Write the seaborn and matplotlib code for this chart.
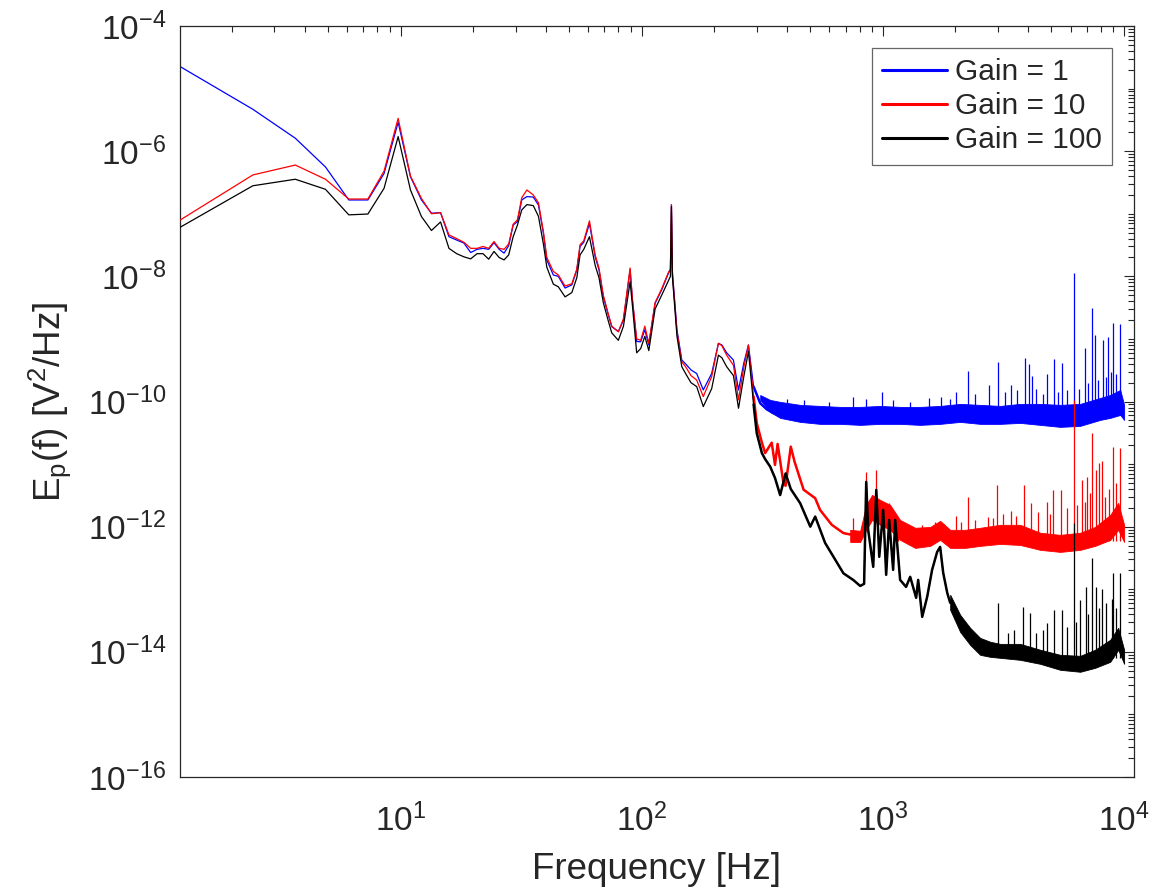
import matplotlib.pyplot as plt
import numpy as np
import pandas as pd
import seaborn as sns
from matplotlib.lines import Line2D
from matplotlib.ticker import FixedLocator, LogLocator, NullFormatter, LogFormatterSciNotation

# smooth part of the spectra (shared frequency grid), Hz
freq_lo = [1.22, 2.44, 3.66, 4.88, 6.10, 7.32, 8.54, 9.77, 10.99, 12.21,
           13.43, 14.65, 15.87, 17.09, 18.31, 19.53, 20.75, 21.97, 23.19, 24.41,
           25.63, 26.86, 28.08, 29.30, 30.52, 31.8, 33.4, 35.5, 37.3, 39.1,
           40.4, 43.0, 45.1, 48.1, 51.3, 53.8, 55.5, 57.5, 60.7, 64.1,
           66.5, 69.3, 72.5, 75.1, 80.0, 84.0, 89.5, 91.5, 95.3, 99.0,
           103, 107, 113.6, 121, 129, 131.5, 132.8, 134, 140, 146.6,
           152, 160, 169, 180, 195, 208, 215, 225, 240, 252,
           265, 277, 291]

blue_lo = [2.24e-5, 4.67e-6, 1.61e-6, 5.6e-7, 1.66e-7, 1.66e-7, 4.4e-7, 2.9e-6, 3.9e-7, 1.66e-7,
           1.02e-7, 1.04e-7, 4.3e-8, 3.8e-8, 3.4e-8, 2.4e-8, 2.7e-8, 2.8e-8, 2.7e-8, 3.45e-8,
           2.7e-8, 2.35e-8, 3.1e-8, 6.6e-8, 7.5e-8, 1.66e-7, 1.88e-7, 1.85e-7, 1.38e-7, 4.9e-8,
           1.83e-8, 1.05e-8, 1.0e-8, 6.5e-9, 7.3e-9, 1.27e-8, 3.0e-8, 3.5e-8, 7.0e-8, 2.06e-8,
           1.27e-8, 4.7e-9, 2.5e-9, 1.57e-9, 1.31e-9, 2.0e-9, 1.27e-8, 4.2e-9, 9.1e-10, 9.0e-10,
           1.4e-9, 8.0e-10, 3.7e-9, 6.1e-9, 1.12e-8, 1.3e-8, 1.38e-7, 1.2e-8, 1.39e-9, 4.6e-10,
           4.0e-10, 3.2e-10, 2.8e-10, 1.53e-10, 2.8e-10, 8.5e-10, 8.0e-10, 6.0e-10, 4.6e-10, 1.53e-10,
           4.1e-10, 8.0e-10, 1.73e-10]

red_lo = [7.96e-8, 4.17e-7, 6.0e-7, 3.56e-7, 1.72e-7, 1.72e-7, 4.8e-7, 3.35e-6, 4.0e-7, 1.75e-7,
          1.0e-7, 1.04e-7, 4.6e-8, 4.0e-8, 3.5e-8, 2.8e-8, 2.8e-8, 3.0e-8, 2.8e-8, 3.6e-8,
          2.8e-8, 2.7e-8, 3.3e-8, 6.8e-8, 8.0e-8, 1.8e-7, 2.4e-7, 2.0e-7, 1.5e-7, 5.2e-8,
          2.0e-8, 1.2e-8, 1.05e-8, 7.0e-9, 7.6e-9, 1.3e-8, 3.2e-8, 3.7e-8, 7.7e-8, 2.2e-8,
          1.35e-8, 5.0e-9, 2.6e-9, 1.6e-9, 1.3e-9, 2.1e-9, 1.36e-8, 4.3e-9, 1.0e-9, 9.5e-10,
          1.6e-9, 8.5e-10, 3.8e-9, 6.3e-9, 1.15e-8, 1.3e-8, 1.4e-7, 1.1e-8, 1.3e-9, 4.3e-10,
          3.6e-10, 2.6e-10, 2.2e-10, 1.2e-10, 2.5e-10, 8.5e-10, 7.8e-10, 5.5e-10, 3.8e-10, 1.06e-10,
          3.5e-10, 8.0e-10, 1.2e-10]

black_lo = [6.1e-8, 2.8e-7, 3.56e-7, 2.46e-7, 9.6e-8, 9.9e-8, 2.55e-7, 1.71e-6, 2.4e-7, 9.0e-8,
            5.4e-8, 7.4e-8, 2.8e-8, 2.3e-8, 2.05e-8, 1.9e-8, 2.3e-8, 2.3e-8, 1.88e-8, 2.5e-8,
            2.0e-8, 1.83e-8, 2.2e-8, 4.3e-8, 6.6e-8, 1.15e-7, 1.4e-7, 1.35e-7, 9.1e-8, 3.3e-8,
            1.4e-8, 7.5e-9, 6.8e-9, 4.7e-9, 5.5e-9, 9.5e-9, 2.2e-8, 2.7e-8, 4.3e-8, 1.5e-8,
            9.5e-9, 3.8e-9, 2.0e-9, 1.25e-9, 9.5e-10, 1.6e-9, 8.2e-9, 3.4e-9, 6.0e-10, 7.0e-10,
            1.1e-9, 6.5e-10, 3.0e-9, 5.0e-9, 8.5e-9, 1.0e-8, 1.3e-7, 1.0e-8, 1.1e-9, 3.6e-10,
            2.8e-10, 2.0e-10, 1.73e-10, 8.3e-11, 1.6e-10, 5.5e-10, 5.0e-10, 3.6e-10, 2.6e-10, 7.8e-11,
            2.5e-10, 6.3e-10, 9.0e-11]

# roll-off towards the noise floor
blue_tail_f = [310, 330, 352]
blue_tail = [9.4e-11, 7.5e-11, 6.5e-11]

red_tail_f = [300, 315, 325, 346, 357, 366, 387, 395, 415, 430,
              469, 524, 549, 614, 686, 805]
red_tail = [4.5e-11, 2.2e-11, 1.5e-11, 2.2e-11, 9.7e-12, 2.1e-11, 5.0e-12, 4.5e-12, 1.9e-11, 1.1e-11,
            3.9e-12, 2.85e-12, 1.85e-12, 1.07e-12, 7.9e-13, 6.95e-13]

black_tail_f = [300, 315, 325, 341, 357, 375, 395, 415, 454, 500,
                524, 576, 624, 686, 755, 805, 836, 853, 869, 912,
                939, 966, 1003, 1032, 1062, 1103, 1125, 1179, 1248, 1298,
                1374, 1401, 1456, 1527, 1600, 1679, 1728, 1779, 1849, 1902]
black_tail = [3.1e-11, 1.5e-11, 1.2e-11, 9.1e-12, 6.0e-12, 3.2e-12, 7.1e-12, 4.0e-12, 2.37e-12, 1.0e-12,
              1.45e-12, 5.5e-13, 3.3e-13, 1.8e-13, 1.4e-13, 1.13e-13, 1.22e-13, 5.2e-12, 8.9e-13, 2.28e-13,
              3.87e-12, 3.3e-13, 1.85e-12, 1.7e-13, 1.28e-12, 2.04e-13, 1.28e-12, 1.41e-13, 1.09e-13, 1.58e-13,
              7.3e-14, 1.41e-13, 3.62e-14, 7.6e-14, 2.04e-13, 3.95e-13, 4.75e-13, 1.83e-13, 8.75e-14, 6.07e-14]

# noise floor envelopes (lower / upper)
blue_band_f = [310, 341, 375, 454, 549, 665, 805, 974, 1179, 1428, 1728,
               2092, 2532, 3066, 3711, 4492, 5438, 6582, 7967, 8765, 9645, 10010]
blue_band_lo = [1.06e-10, 6.8e-11, 5.47e-11, 4.72e-11, 4.39e-11, 4.39e-11, 4.23e-11, 4.39e-11, 4.39e-11, 4.23e-11, 4.39e-11,
                4.72e-11, 4.39e-11, 4.39e-11, 4.55e-11, 4.23e-11, 3.93e-11, 4.08e-11, 5.08e-11, 5.47e-11, 6.1e-11, 5.08e-11]
blue_band_hi = [1.27e-10, 1.06e-10, 9.86e-11, 8.83e-11, 8.5e-11, 8.2e-11, 8.2e-11, 8.5e-11, 8.2e-11, 8.2e-11, 8.5e-11,
                9.16e-11, 8.83e-11, 8.5e-11, 9.16e-11, 9.16e-11, 8.83e-11, 9.16e-11, 1.14e-10, 1.27e-10, 1.53e-10, 8.83e-11]

red_band_f = [732, 805, 853, 902, 974, 1072, 1179, 1361, 1571, 1728, 1902,
              2194, 2532, 3066, 3711, 4492, 5438, 6582, 7590, 8765, 9460, 10010]
red_band_lo = [5.7e-13, 5.7e-13, 8.9e-13, 1.28e-12, 1.07e-12, 8.9e-13, 6.15e-13, 4.58e-13, 4.93e-13, 6.15e-13, 4.58e-13,
               4.58e-13, 4.93e-13, 5.3e-13, 5.1e-13, 4.26e-13, 3.95e-13, 4.26e-13, 4.93e-13, 6.15e-13, 8.9e-13, 5.7e-13]
red_band_hi = [8.9e-13, 8.6e-13, 2.23e-12, 3.22e-12, 2.68e-12, 2.23e-12, 1.28e-12, 9.6e-13, 9.9e-13, 1.24e-12, 8.9e-13,
               8.9e-13, 9.6e-13, 1.07e-12, 1.07e-12, 8.0e-13, 7.4e-13, 8.0e-13, 9.9e-13, 1.54e-12, 2.4e-12, 1.07e-12]

black_band_f = [1902, 2092, 2301, 2532, 2786, 3066, 3711, 4492, 5438, 6582, 7590, 8765, 9460, 10010]
black_band_lo = [4.69e-14, 2.08e-14, 1.29e-14, 8.96e-15, 8.32e-15, 8.02e-15, 7.45e-15, 6.43e-15, 5.16e-15, 4.8e-15,
                 5.55e-15, 6.92e-15, 1.08e-14, 6.43e-15]
black_band_hi = [8.15e-14, 3.9e-14, 2.42e-14, 1.67e-14, 1.45e-14, 1.34e-14, 1.34e-14, 1.08e-14, 8.96e-15, 8.63e-15,
                 1.08e-14, 1.56e-14, 2.42e-14, 1.08e-14]

# narrow spectral lines (frequency, foot, top)
blue_spike_f = [400, 470, 600, 749, 850, 996, 1100, 1300, 1550, 1750, 1900,
                2015, 2264, 2400, 2743, 2988, 3200, 3392, 3600, 3893, 4018, 4149, 4300,
                4600, 4790, 5125, 5300, 5520, 5800, 6210, 6500, 6905, 7100, 7360, 7590,
                7800, 8220, 8400, 8550, 8800, 9000, 9300, 9660]
blue_spike_top = [1.1e-10, 1.05e-10, 1.0e-10, 1.2e-10, 1.1e-10, 1.44e-10, 1.05e-10, 1.0e-10, 1.15e-10, 1.2e-10, 1.1e-10,
                  1.42e-10, 3.08e-10, 1.3e-10, 1.84e-10, 4.25e-10, 1.4e-10, 1.84e-10, 1.5e-10, 5.0e-10, 3.94e-10, 2.59e-10, 1.6e-10,
                  1.3e-10, 2.76e-10, 4.8e-10, 1.4e-10, 4.1e-10, 1.5e-10, 1.15e-8, 1.6e-10, 7.1e-10, 2.0e-10, 3.09e-9, 1.16e-9,
                  2.2e-10, 9.6e-10, 2.5e-10, 1.06e-9, 3.0e-10, 1.78e-9, 2.8e-10, 1.75e-9]
blue_spike_base = [6e-11] * len(blue_spike_f)

red_spike_f = [750, 850, 935, 996, 1065, 1150, 1250, 1450, 1650, 1800, 2013, 2100,
               2264, 2400, 2725, 2850, 2970, 3150, 3404, 3550, 3854, 4121, 4400, 4790,
               4950, 5097, 5470, 5800, 6210, 6400, 6725, 6900, 7050, 7250, 7400, 7670,
               7850, 8080, 8300, 8700, 9040, 9300, 9610]
red_spike_top = [1.38e-12, 7.6e-12, 8.1e-12, 2.1e-12, 2.37e-12, 1.1e-12, 1.0e-12, 1.05e-12, 1.2e-12, 1.1e-12, 1.49e-12, 1.2e-12,
                 3.03e-12, 1.3e-12, 1.45e-12, 1.4e-12, 4.65e-12, 1.6e-12, 1.81e-12, 1.5e-12, 4.65e-12, 2.37e-12, 1.7e-12, 2.52e-12,
                 1.6e-12, 3.87e-12, 3.87e-12, 2.0e-12, 1.06e-10, 2.2e-12, 5.6e-12, 2.5e-12, 6.3e-12, 3.5e-12, 3.11e-11, 8.1e-12,
                 1.03e-11, 1.1e-11, 3.0e-12, 4.0e-12, 1.9e-11, 5.0e-12, 1.8e-11]
red_spike_base = [6e-13, 1.5e-12, 1.5e-12, 1.4e-12, 1.2e-12] + [6e-13] * (len(red_spike_f) - 5)

black_spike_f = [3000, 3300, 3500, 3800, 4070, 4300, 4600, 4790, 5125,
                 5520, 5800, 6210, 6300, 6580, 6970, 7100, 7360, 7670, 7900, 8080, 8400,
                 8900, 9040, 9300, 9610]
black_spike_top = [6.0e-14, 2.0e-14, 2.2e-14, 5.3e-14, 4.15e-14, 2.0e-14, 2.2e-14, 2.87e-14, 4.7e-14,
                   4.7e-14, 2.5e-14, 1.14e-12, 3.0e-14, 6.8e-14, 1.1e-13, 4.0e-14, 3.14e-13, 1.1e-13, 5.0e-14, 1.0e-13, 6.0e-14,
                   7.0e-14, 1.81e-13, 5.0e-14, 1.81e-13]
black_spike_base = [1.0e-14] * 3 + [8e-15] * (len(black_spike_f) - 3)

labels = ['Gain = 1', 'Gain = 10', 'Gain = 100']
colors = ['#0000ff', '#ff0000', '#000000']

sns.set_theme(style="white")
plt.rcParams['font.family'] = ['Liberation Sans', 'DejaVu Sans']
plt.rcParams['mathtext.fontset'] = 'custom'
plt.rcParams['mathtext.rm'] = 'Liberation Sans'
plt.rcParams['mathtext.it'] = 'Liberation Sans:italic'
plt.rcParams['mathtext.bf'] = 'Liberation Sans:bold'

series = [
    (freq_lo + blue_tail_f, blue_lo + blue_tail,
     (blue_band_f, blue_band_lo, blue_band_hi), (blue_spike_f, blue_spike_base, blue_spike_top)),
    (freq_lo + red_tail_f, red_lo + red_tail,
     (red_band_f, red_band_lo, red_band_hi), (red_spike_f, red_spike_base, red_spike_top)),
    (freq_lo + black_tail_f, black_lo + black_tail,
     (black_band_f, black_band_lo, black_band_hi), (black_spike_f, black_spike_base, black_spike_top)),
]

fig = plt.figure(figsize=(11.53, 8.94), dpi=100)
ax = fig.add_axes([180 / 1153, 1 - 777 / 894, (1134 - 180) / 1153, (777 - 26) / 894])
ax.set(xscale='log', yscale='log')

for i, (f, p, band, spikes) in enumerate(series):
    c = colors[i]
    z = 2 + i
    df = pd.DataFrame({'freq': f, 'psd': p})
    sns.lineplot(data=df, x='freq', y='psd', color=c, lw=0.9, ax=ax,
                 estimator=None, legend=False, zorder=z)
    # the noisy roll-off reads thicker in the original
    sns.lineplot(data=df[df['freq'] >= 291], x='freq', y='psd', color=c, lw=1.8, ax=ax,
                 estimator=None, legend=False, zorder=z)
    ax.fill_between(band[0], band[1], band[2], color=c, lw=0.6, zorder=z)
    ax.vlines(spikes[0], spikes[1], spikes[2], color=c, lw=0.9, zorder=z)

ax.set_xlim(1.217, 1.1e4)
ax.set_ylim(1e-16, 1e-4)

ax.xaxis.set_major_locator(LogLocator(base=10, numticks=10))
ax.xaxis.set_minor_locator(LogLocator(base=10, subs=np.arange(2, 10), numticks=100))
ax.yaxis.set_major_locator(FixedLocator([1e-16, 1e-14, 1e-12, 1e-10, 1e-8, 1e-6, 1e-4]))
ax.yaxis.set_major_formatter(LogFormatterSciNotation())
ax.yaxis.set_minor_locator(LogLocator(base=10, subs=np.arange(1, 10), numticks=100))
ax.xaxis.set_minor_formatter(NullFormatter())
ax.yaxis.set_minor_formatter(NullFormatter())

ax.tick_params(which='both', direction='in', top=True, right=True, colors='#262626',
               labelsize=24, width=0.8)
ax.tick_params(which='major', length=7)
ax.tick_params(which='minor', length=4)
ax.tick_params(axis='x', which='major', pad=19)
ax.tick_params(axis='y', which='major', pad=10)
for s in ax.spines.values():
    s.set_color('#262626')
    s.set_linewidth(0.9)

ax.set_xlabel('Frequency [Hz]', fontsize=26.5, color='#262626', labelpad=10)
ax.set_ylabel(r'E$_\mathrm{p}$(f) [V$^2$/Hz]', fontsize=26.5, color='#262626', labelpad=11)

handles = [Line2D([0], [0], color=c, lw=2.2, label=l) for c, l in zip(colors, labels)]
leg = ax.legend(handles=handles, loc='upper right', bbox_to_anchor=(1 - 22 / 954, 1 - 22 / 751),
                borderaxespad=0, fontsize=21.5, frameon=True, fancybox=False,
                handlelength=2.15, handletextpad=0.27, labelspacing=0.2, borderpad=0.35)
leg.get_frame().set_edgecolor('#404040')
leg.get_frame().set_linewidth(0.9)

fig.savefig('out.png', dpi=100)
